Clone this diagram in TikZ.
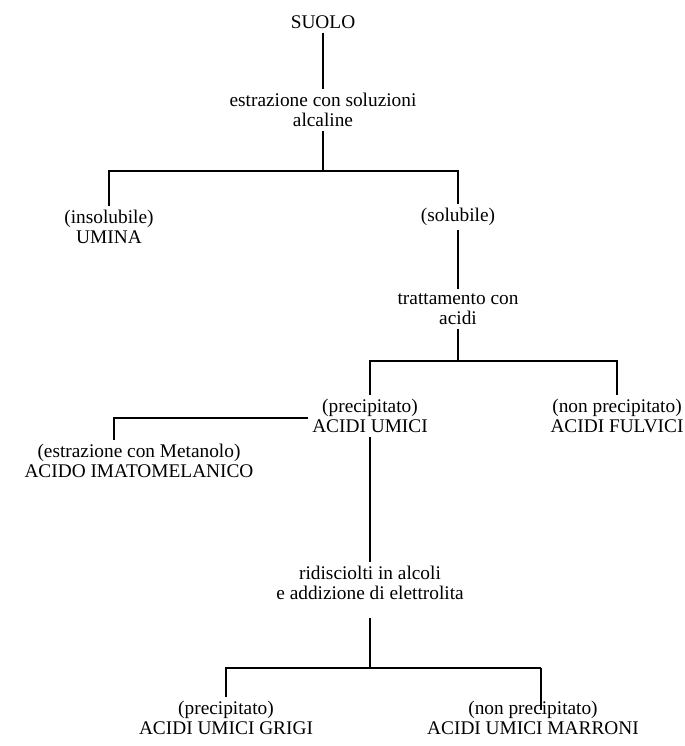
\documentclass[tikz,border=0pt]{standalone}
\usepackage{fontspec}
\setmainfont{Liberation Serif}
\usetikzlibrary{calc}

\begin{document}
\begin{tikzpicture}[x = .03cm, y = -.03cm,
  lbl/.style = {align = center, font = \fontsize{16.5}{17}\selectfont},
  ln/.style = {line width = 1.5pt}]
\useasboundingbox (0, 0) rectangle (685, 746);

\node[lbl] (suolo) at (323, 22) {SUOLO};
\node[lbl] (estr) at (323, 110) {estrazione con soluzioni\\alcaline};
\node[lbl] (insol) at (109, 227) {(insolubile)\\UMINA};
\node[lbl] (solub) at (458, 217) {(solubile)};
\node[lbl] (tratt) at (458, 309) {trattamento con\\acidi};

\coordinate (b1) at (323, 171);
\draw[ln] (suolo) -- (estr);
\draw[ln] (estr) -- (b1);
\draw[ln] (insol) |- (b1) -| (solub);
\draw[ln] (solub) -- (tratt);

\node[lbl] (umici) at (370, 416) {(precipitato)\\ACIDI UMICI};
\node[lbl] (fulv) at (617, 416) {(non precipitato)\\ACIDI FULVICI};
\node[lbl] (imato) at (139, 461) {(estrazione con Metanolo)\\ACIDO IMATOMELANICO};

\coordinate (b2) at (458, 361);
\coordinate (b4) at (114, 418);
\draw[ln] (tratt) -- (b2);
\draw[ln] (umici) |- (b2) -| (fulv);
\draw[ln] (umici.west |- b4) -- (b4) -- (b4 |- imato.north);

\node[lbl] (ridis) at (370, 583) {ridisciolti in alcoli\\e addizione di elettrolita};
\node[lbl] (grigi) at (226, 718) {(precipitato)\\ACIDI UMICI GRIGI};
\node[lbl] (marroni) at (533, 718) {(non precipitato)\\ACIDI UMICI MARRONI};

\coordinate (b3) at (370, 668);
\coordinate (b5) at (541, 668);
\draw[ln] (umici) -- (ridis);
\draw[ln, shorten <= .42cm] (ridis) -- (b3);
\draw[ln] (grigi) |- (b3) -- (b5);
\draw[ln, shorten >= -.4cm] (b5) -- (b5 |- marroni.north);

\end{tikzpicture}
\end{document}
